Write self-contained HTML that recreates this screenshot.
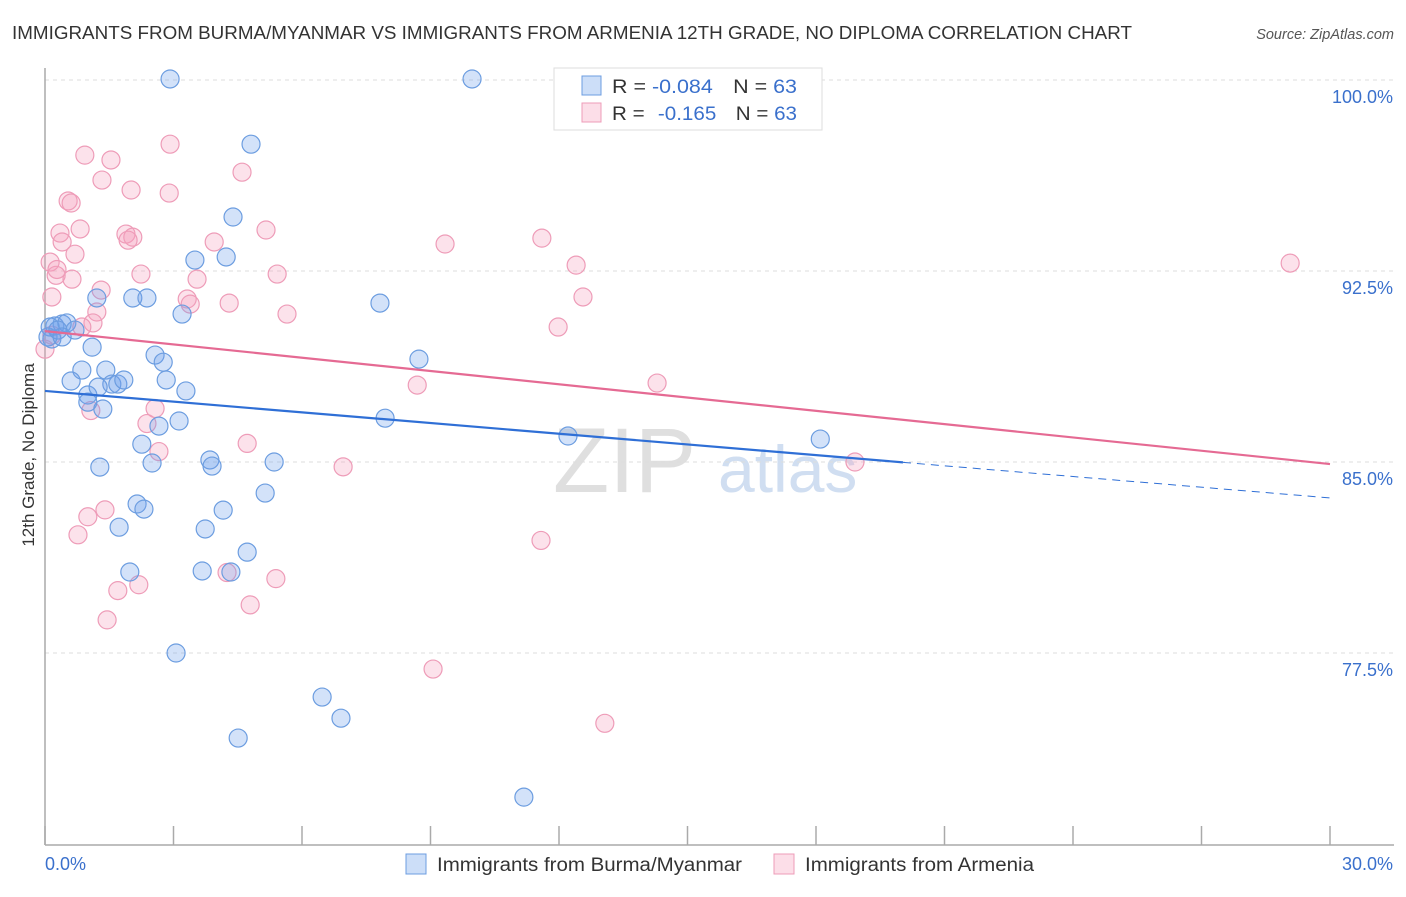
<!DOCTYPE html>
<html><head><meta charset="utf-8">
<style>
body{margin:0;background:#fff;font-family:"Liberation Sans",sans-serif;}
svg text{font-family:"Liberation Sans",sans-serif;}
</style></head>
<body>
<svg id="chart" width="1406" height="892" xmlns="http://www.w3.org/2000/svg">
<text x="12" y="39" font-size="18" fill="#333" textLength="1120" lengthAdjust="spacingAndGlyphs">IMMIGRANTS FROM BURMA/MYANMAR VS IMMIGRANTS FROM ARMENIA 12TH GRADE, NO DIPLOMA CORRELATION CHART</text>
<text x="1394" y="39" font-size="14.5" fill="#555" text-anchor="end" font-style="italic">Source: ZipAtlas.com</text>
<g>
<text x="553" y="492" font-size="92" fill="#d8d8d8" font-family="Liberation Serif" opacity="0.8">ZIP</text>
<text x="718" y="492" font-size="66" fill="#c5d6ee" opacity="0.8">atlas</text>
</g>
<g id="grid"></g>
<g id="axes"></g>
<g id="marks"></g>
<g id="trends"></g>
<g>
<rect x="554" y="68" width="268" height="62" fill="#fff" stroke="#ddd"/>
<rect x="582" y="76" width="19" height="19" fill="rgba(110,160,235,0.35)" stroke="#6c9de0"/>
<rect x="582" y="103" width="19" height="19" fill="rgba(245,160,190,0.35)" stroke="#ee9cb8"/>
<text x="612" y="93" font-size="19" fill="#333" textLength="185" lengthAdjust="spacingAndGlyphs">R = <tspan fill="#3a70cc">-0.084</tspan><tspan dx="18">N = </tspan><tspan fill="#3a70cc">63</tspan></text>
<text x="612" y="120" font-size="19" fill="#333" textLength="185" lengthAdjust="spacingAndGlyphs">R = <tspan dx="7" fill="#3a70cc">-0.165</tspan><tspan dx="18">N = </tspan><tspan fill="#3a70cc">63</tspan></text>
</g>
<text transform="translate(34,455) rotate(-90)" font-size="17" fill="#333" text-anchor="middle">12th Grade, No Diploma</text>
<g>
<rect x="406" y="854" width="20" height="20" fill="rgba(110,160,235,0.35)" stroke="#6c9de0"/>
<text x="437" y="871" font-size="19" fill="#333" textLength="305" lengthAdjust="spacingAndGlyphs">Immigrants from Burma/Myanmar</text>
<rect x="774" y="854" width="20" height="20" fill="rgba(245,160,190,0.35)" stroke="#ee9cb8"/>
<text x="805" y="871" font-size="19" fill="#333" textLength="229" lengthAdjust="spacingAndGlyphs">Immigrants from Armenia</text>
</g>
</svg>
<script>
const yTicks=[100.0,92.5,85.0,77.5];
const yTickLabels=["100.0%","92.5%","85.0%","77.5%"];
const xTicks=[0,3,6,9,12,15,18,21,24,27,30];
const xTickLabels=["0.0%","30.0%"];
const blueX=[2.92,9.97,4.81,4.39,4.23,3.50,2.05,2.38,1.21,7.82,3.20,0.23,0.40,0.51,0.12,0.70,0.16,1.10,2.57,2.76,8.73,0.86,1.42,0.61,1.56,1.70,1.84,2.83,3.29,1.00,1.00,1.35,3.13,2.66,7.94,2.26,12.21,18.10,2.50,3.85,3.90,5.35,1.28,5.14,2.15,2.31,4.16,1.73,3.74,4.72,1.98,3.67,4.34,3.06,6.47,6.91,4.51,11.18,0.07,0.30,0.40,1.24];
const blueY=[100.04,100.04,97.48,94.62,93.05,92.93,91.44,91.44,91.44,91.24,90.81,90.34,90.42,90.46,90.30,90.18,89.83,89.51,89.20,88.92,89.04,88.61,88.61,88.18,88.06,88.06,88.22,88.22,87.79,87.63,87.35,87.08,86.61,86.41,86.72,85.70,86.02,85.90,84.96,85.08,84.84,85.00,84.80,83.78,83.35,83.15,83.11,82.44,82.37,81.46,80.68,80.72,80.68,77.50,75.77,74.94,74.16,71.84,89.91,90.18,89.91,87.94];
const pinkX=[2.92,0.93,1.54,1.33,4.60,2.01,2.90,0.54,0.61,0.82,0.35,1.89,2.05,1.94,5.16,3.95,0.40,9.34,11.60,0.70,0.12,12.40,29.07,0.26,0.63,2.24,3.55,5.42,1.31,0.16,3.32,3.39,4.30,12.56,5.65,1.21,1.12,11.98,0.86,0.16,0.0,8.69,14.29,2.57,1.07,2.38,2.66,4.72,6.96,18.91,1.40,1.00,0.77,11.58,4.25,5.39,1.70,2.19,4.79,1.45,9.06,13.07,0.28];
const pinkY=[97.48,97.05,96.86,96.07,96.38,95.68,95.56,95.25,95.17,94.15,93.99,93.95,93.83,93.71,94.11,93.64,93.64,93.56,93.79,93.16,92.85,92.73,92.81,92.33,92.18,92.38,92.18,92.38,91.75,91.48,91.40,91.20,91.24,91.48,90.81,90.89,90.46,90.30,90.30,89.98,89.43,88.02,88.10,87.10,87.02,86.51,85.41,85.73,84.81,85.00,83.12,82.85,82.14,81.92,80.66,80.42,79.95,80.18,79.39,78.80,76.87,74.74,92.56];
const blueTrend=[87.79,83.59];
const blueSolidEnd=20.03;
const pinkTrend=[90.14,84.92];

const NS="http://www.w3.org/2000/svg";
function xS(v){return 45+v/30*1285;}
function yS(v){return 80+(100-v)*191/7.5;}
function mk(tag,attrs,parent){const e=document.createElementNS(NS,tag);for(const k in attrs)e.setAttribute(k,attrs[k]);parent.appendChild(e);return e;}
const grid=document.getElementById('grid'),axes=document.getElementById('axes'),marks=document.getElementById('marks'),trends=document.getElementById('trends');
yTicks.forEach((t,i)=>{
 const l=mk('line',{x1:45,x2:1394,y1:yS(t),y2:yS(t),stroke:'#ddd','stroke-dasharray':'4,4'},grid);
 
 
 const tx=mk('text',{x:1393,y:yS(t)+23,'font-size':18,fill:'#3a70cc','text-anchor':'end'},axes);
 tx.textContent=yTickLabels[i];
 
 
});
const ya=mk('line',{x1:45,x2:45,y1:68,y2:845,stroke:'#aaa','stroke-width':1.5},axes);


const xa=mk('line',{x1:45,x2:1394,y1:845,y2:845,stroke:'#aaa','stroke-width':1.5},axes);


xTicks.forEach(t=>{
 const l=mk('line',{x1:xS(t),x2:xS(t),y1:826,y2:845,stroke:'#aaa','stroke-width':1.5},axes);
 
 
});
const xl0=mk('text',{x:45,y:870,'font-size':18,fill:'#3a70cc'},axes);
xl0.textContent=xTickLabels[0];


const xl1=mk('text',{x:1393,y:870,'font-size':18,fill:'#3a70cc','text-anchor':'end'},axes);
xl1.textContent=xTickLabels[1];


pinkX.forEach((x,i)=>{
 const c=mk('circle',{cx:xS(x),cy:yS(pinkY[i]),r:9,fill:'rgba(245,160,190,0.3)',stroke:'#ee9cb8','stroke-width':1.2},marks);
 
 
});
blueX.forEach((x,i)=>{
 const c=mk('circle',{cx:xS(x),cy:yS(blueY[i]),r:9,fill:'rgba(110,160,235,0.3)',stroke:'#6c9de0','stroke-width':1.2},marks);
 
 
});
function trendY(tr,x){return tr[0]+(tr[1]-tr[0])*x/30;}
const bt=mk('line',{x1:xS(0),y1:yS(blueTrend[0]),x2:xS(blueSolidEnd),y2:yS(trendY(blueTrend,blueSolidEnd)),stroke:'#2f6fd6','stroke-width':2.2},trends);


const bd=mk('line',{x1:xS(blueSolidEnd),y1:yS(trendY(blueTrend,blueSolidEnd)),x2:xS(30),y2:yS(blueTrend[1]),stroke:'#2f6fd6','stroke-width':1,'stroke-dasharray':'8,6'},trends);


const pt=mk('line',{x1:xS(0),y1:yS(pinkTrend[0]),x2:xS(30),y2:yS(pinkTrend[1]),stroke:'#e56a93','stroke-width':2.2},trends);


</script>
</body></html>
